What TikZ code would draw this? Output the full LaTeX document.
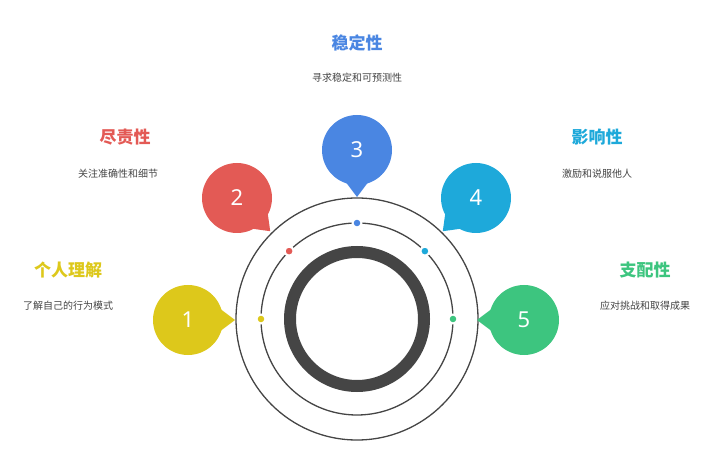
\documentclass[tikz,border=0pt]{standalone}
\usepackage{fontspec}
\setmainfont{Noto Sans}
\newfontfamily\cjk{Noto Sans CJK SC}
\usetikzlibrary{calc}

\definecolor{cyellow}{HTML}{DDC81B}
\definecolor{cred}{HTML}{E35A55}
\definecolor{cblue}{HTML}{4A86E2}
\definecolor{ccyan}{HTML}{1EA9DA}
\definecolor{cgreen}{HTML}{3DC57F}
\definecolor{cring}{HTML}{454545}
\definecolor{ctext}{HTML}{444444}

\begin{document}
\begin{tikzpicture}[x=1pt,y=1pt,
  ball node/.style={circle,minimum size=70pt,inner sep=0pt,text=white,font=\fontsize{22}{22}\bfseries},
  dot node/.style={circle,minimum size=9pt,inner sep=0pt,draw=white,line width=2pt},
  title node/.style={font=\cjk\fontsize{17}{17}\bfseries},
  desc node/.style={font=\cjk\fontsize{12.5}{13},text=ctext}]

  \useasboundingbox (0,0) rectangle (719,455);

  \coordinate (c) at (357,136);
  \draw[cring,line width=1.3pt] (c) circle (121);
  \draw[cring,line width=1.3pt] (c) circle (96);
  \draw[cring,line width=12pt] (c) circle (67);

  % balloons
  \foreach \n/\x/\y/\col/\a in {1/188/135/cyellow/0,2/237/257/cred/-45,3/357/305/cblue/-90,
                                4/476/257/ccyan/-135,5/524/135/cgreen/180}{
    \fill[\col] ($(\x,\y)+(\a+22:33)$) -- ($(\x,\y)+(\a:47)$) -- ($(\x,\y)+(\a-22:33)$) -- cycle;
    \node[ball node,fill=\col] (b\n) at (\x,\y) {\n};
  }

  % dots
  \node[dot node,fill=cyellow] (d1) at ($(c)+(180:96)$) {};
  \node[dot node,fill=cred] (d2) at ($(c)+(135:96)$) {};
  \node[dot node,fill=cblue] (d3) at ($(c)+(90:96)$) {};
  \node[dot node,fill=ccyan] (d4) at ($(c)+(45:96)$) {};
  \node[dot node,fill=cgreen] (d5) at ($(c)+(0:96)$) {};

  % labels
  \node[title node,text=cyellow] (t1) at (68,185) {个人理解};
  \node[desc node] (s1) at (68,149) {了解自己的行为模式};
  \node[title node,text=cred] (t2) at (125,318) {尽责性};
  \node[desc node] (s2) at (118,281) {关注准确性和细节};
  \node[title node,text=cblue] (t3) at (357,412) {稳定性};
  \node[desc node] (s3) at (357,377) {寻求稳定和可预测性};
  \node[title node,text=ccyan] (t4) at (597,318) {影响性};
  \node[desc node] (s4) at (597,281) {激励和说服他人};
  \node[title node,text=cgreen] (t5) at (645,185) {支配性};
  \node[desc node] (s5) at (645,149) {应对挑战和取得成果};

\end{tikzpicture}
\end{document}
